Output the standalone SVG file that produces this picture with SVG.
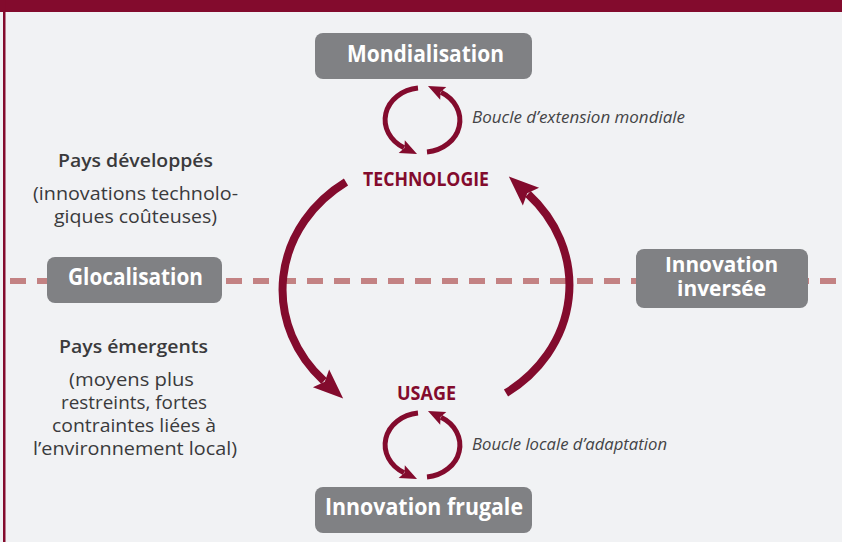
<svg xmlns="http://www.w3.org/2000/svg" width="842" height="542" viewBox="0 0 842 542">
<defs>
<style>
.box{fill:#808184;}
.bt{font-family:"Open Sans","Noto Sans",sans-serif;font-weight:700;fill:#ffffff;font-size:23px;}
.key{font-family:"Open Sans","Noto Sans",sans-serif;font-weight:700;fill:#830b2d;font-size:19px;}
.lbl{font-family:"Open Sans","Noto Sans",sans-serif;font-style:italic;fill:#444446;font-size:16px;}
.side{font-family:"Open Sans","Noto Sans",sans-serif;fill:#3a3a3c;font-size:18px;text-anchor:middle;}
.sideb{font-weight:600;}
.big{fill:none;stroke:#830b2d;stroke-width:8;}
.small{fill:none;stroke:#830b2d;stroke-width:5;}
</style>
<marker id="ahBig" markerUnits="userSpaceOnUse" markerWidth="32" markerHeight="24" refX="4" refY="12" orient="auto" overflow="visible">
<path d="M0,0 L30,12 L0,24 L5,12 Z" fill="#830b2d"/>
</marker>
<marker id="ahSmall" markerUnits="userSpaceOnUse" markerWidth="18" markerHeight="14" refX="2.5" refY="7" orient="auto" overflow="visible">
<path d="M0,0 L17,7 L0,14 L3,7 Z" fill="#830b2d"/>
</marker>
</defs>
<rect x="0" y="0" width="842" height="542" fill="#f1f2f4"/>
<rect x="0" y="0" width="842" height="12" fill="#830b2d"/>
<rect x="3" y="0" width="2.5" height="542" fill="#830b2d"/>
<line x1="10" y1="281" x2="842" y2="281" stroke="#c38283" stroke-width="6" stroke-dasharray="16 11"/>
<g id="connectors">
<path class="big" d="M346 182 A144 130 0 0 0 324 381" marker-end="url(#ahBig)"/>
<path class="big" d="M346 182 A144 130 0 0 0 324 381" marker-end="url(#ahBig)" transform="rotate(180 426 287.5)"/>
<path class="small" d="M418 88 A37 32 0 0 0 404 147.7" marker-end="url(#ahSmall)"/>
<path class="small" d="M418 88 A37 32 0 0 0 404 147.7" marker-end="url(#ahSmall)" transform="rotate(180 422.5 120)"/>
<g transform="translate(0 325)">
<path class="small" d="M418 88 A37 32 0 0 0 404 147.7" marker-end="url(#ahSmall)"/>
<path class="small" d="M418 88 A37 32 0 0 0 404 147.7" marker-end="url(#ahSmall)" transform="rotate(180 422.5 120)"/>
</g>
</g>
<g id="mondialisation">
<rect class="box" x="315" y="33" width="217" height="46" rx="8"/>
<text class="bt" x="347" y="62" textLength="157" lengthAdjust="spacingAndGlyphs">Mondialisation</text>
</g>
<g id="glocalisation">
<rect class="box" x="47" y="257" width="175" height="46" rx="8"/>
<text class="bt" x="68" y="285" textLength="135" lengthAdjust="spacingAndGlyphs">Glocalisation</text>
</g>
<g id="innovation-inversee">
<rect class="box" x="636" y="249" width="172" height="59" rx="8"/>
<text class="bt" x="665" y="272" textLength="113" lengthAdjust="spacingAndGlyphs" style="font-size:21px">Innovation</text>
<text class="bt" x="677" y="296" textLength="89" lengthAdjust="spacingAndGlyphs" style="font-size:21px">inversée</text>
</g>
<g id="innovation-frugale">
<rect class="box" x="315" y="487" width="217" height="46" rx="8"/>
<text class="bt" x="325" y="515" textLength="198" lengthAdjust="spacingAndGlyphs">Innovation frugale</text>
</g>
<g id="technologie">
<text class="key" x="363" y="186" textLength="126" lengthAdjust="spacingAndGlyphs">TECHNOLOGIE</text>
</g>
<g id="usage">
<text class="key" x="397" y="400" textLength="59" lengthAdjust="spacingAndGlyphs">USAGE</text>
</g>
<g id="boucle-extension">
<text class="lbl" x="472" y="123" textLength="213" lengthAdjust="spacingAndGlyphs">Boucle d’extension mondiale</text>
</g>
<g id="boucle-locale">
<text class="lbl" x="472" y="450" textLength="195" lengthAdjust="spacingAndGlyphs">Boucle locale d’adaptation</text>
</g>
<g id="pays-developpes">
<text class="side sideb" x="135.5" y="167" textLength="155" lengthAdjust="spacingAndGlyphs">Pays développés</text>
<text class="side" x="135.5" y="200" textLength="205" lengthAdjust="spacingAndGlyphs">(innovations technolo-</text>
<text class="side" x="135.5" y="223" textLength="163" lengthAdjust="spacingAndGlyphs">giques coûteuses)</text>
</g>
<g id="pays-emergents">
<text class="side sideb" x="133.5" y="353" textLength="149" lengthAdjust="spacingAndGlyphs">Pays émergents</text>
<text class="side" x="131.5" y="386" textLength="125" lengthAdjust="spacingAndGlyphs">(moyens plus</text>
<text class="side" x="134" y="409" textLength="146" lengthAdjust="spacingAndGlyphs">restreints, fortes</text>
<text class="side" x="134" y="432" textLength="164" lengthAdjust="spacingAndGlyphs">contraintes liées à</text>
<text class="side" x="135" y="455" textLength="204" lengthAdjust="spacingAndGlyphs">l’environnement local)</text>
</g>
</svg>
